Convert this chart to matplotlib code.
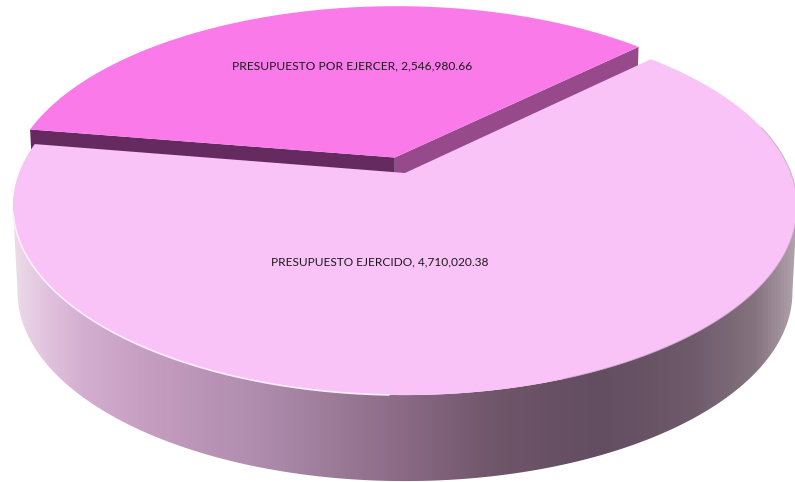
import numpy as np
import matplotlib

matplotlib.use("Agg")
import matplotlib.pyplot as plt
from matplotlib.colors import LinearSegmentedColormap
from matplotlib.patches import Polygon

labels = ["PRESUPUESTO POR EJERCER", "PRESUPUESTO EJERCIDO"]
values = [2546980.66, 4710020.38]

W, H = 795, 482
START_ANGLE = 44.3
EXPLODE = 0.09

# pixel position of the pie centre and perspective of the disc
APEX_X, APEX_Y = 405, 173
A, B, Q = 386.0, 183.0, 0.176
DEPTH = 86


def project(u, v, z=0.0):
    # unit circle -> picture, z=1 is the bottom face
    w = 1 + Q * v
    shrink = 1 - 0.012 * z
    return APEX_X + shrink * A * u / w, APEX_Y - B * v / w + DEPTH * z


def slice_outline(theta1, theta2, shift=(0.0, 0.0), z=0.0):
    t = np.radians(np.linspace(theta1, theta2, 200))
    u = np.r_[0, np.cos(t)] + shift[0]
    v = np.r_[0, np.sin(t)] + shift[1]
    x, y = project(u, v, z)
    return np.column_stack([x, y])


def wall(u1, v1, u2, v2):
    x1, y1 = project(u1, v1)
    x2, y2 = project(u2, v2)
    x3, y3 = project(u2, v2, 1)
    x4, y4 = project(u1, v1, 1)
    return [(x1, y1), (x2, y2), (x3, y3), (x4, y4)]


fig = plt.figure(figsize=(W / 100, H / 100), dpi=100)
ax = fig.add_axes([0, 0, 1, 1])
ax.set_xlim(0, W)
ax.set_ylim(H, 0)
ax.axis("off")

# angles come from the values
sweep = 360 * values[0] / sum(values)
a1, a2 = START_ANGLE, START_ANGLE + sweep
mid = np.radians((a1 + a2) / 2)
shift = (EXPLODE * np.cos(mid), EXPLODE * np.sin(mid))

# outer wall of the big slice, with the horizontal shading
t = np.radians(np.linspace(190, 350, 400))
xt, yt = project(np.cos(t), np.sin(t))
xb, yb = project(np.cos(t), np.sin(t), 1)
side = Polygon(
    np.column_stack([np.r_[xt, xb[::-1]], np.r_[yt, yb[::-1]]]),
    closed=True,
    facecolor="none",
    edgecolor="none",
)
ax.add_patch(side)
side_cmap = LinearSegmentedColormap.from_list(
    "side",
    [
        (0.00, "#ecdcea"),
        (0.04, "#e2c4de"),
        (0.09, "#d3aed0"),
        (0.18, "#c49cc0"),
        (0.32, "#ae8bac"),
        (0.50, "#8a6a85"),
        (0.62, "#6f5569"),
        (0.75, "#634d60"),
        (0.87, "#6e5a6b"),
        (0.95, "#85737f"),
        (1.00, "#b0a2ae"),
    ],
)
im = ax.imshow(
    np.linspace(0, 1, 256).reshape(1, -1),
    cmap=side_cmap,
    extent=[12, 796, 482, 0],
    aspect="auto",
    zorder=1,
)
im.set_clip_path(side)

# cut faces of the exploded slice
u1, v1 = np.cos(np.radians(a1)) + shift[0], np.sin(np.radians(a1)) + shift[1]
u2, v2 = np.cos(np.radians(a2)) + shift[0], np.sin(np.radians(a2)) + shift[1]
ax.add_patch(Polygon(wall(shift[0], shift[1], u1, v1), facecolor="#964a8c", zorder=2))
ax.add_patch(Polygon(wall(shift[0], shift[1], u2, v2), facecolor="#652a60", zorder=2))

# top faces
ax.add_patch(
    Polygon(slice_outline(a1, a2, shift), facecolor="#fb7aea", edgecolor="none", zorder=3)
)
big = slice_outline(a2, a1 + 360)
ax.add_patch(Polygon(big, facecolor="#f9c3f7", edgecolor="none", zorder=4))

# thin light / dark line on the front rim
t = np.radians(np.linspace(192, 268, 100))
ax.plot(*project(np.cos(t), np.sin(t)), color="#fdeefc", lw=1.2, zorder=5)
t = np.radians(np.linspace(290, 375, 100))
ax.plot(*project(np.cos(t), np.sin(t)), color="#a78aa3", lw=0.8, alpha=0.5, zorder=5)

ax.text(352, 66, f"{labels[0]}, {values[0]:,.2f}", ha="center", va="center",
        family="Lato", fontsize=8.65, color="#1a1a1a", zorder=6)
ax.text(380, 262, f"{labels[1]}, {values[1]:,.2f}", ha="center", va="center",
        family="Lato", fontsize=8.6, color="#1a1a1a", zorder=6)

fig.savefig("out.png", dpi=100)
